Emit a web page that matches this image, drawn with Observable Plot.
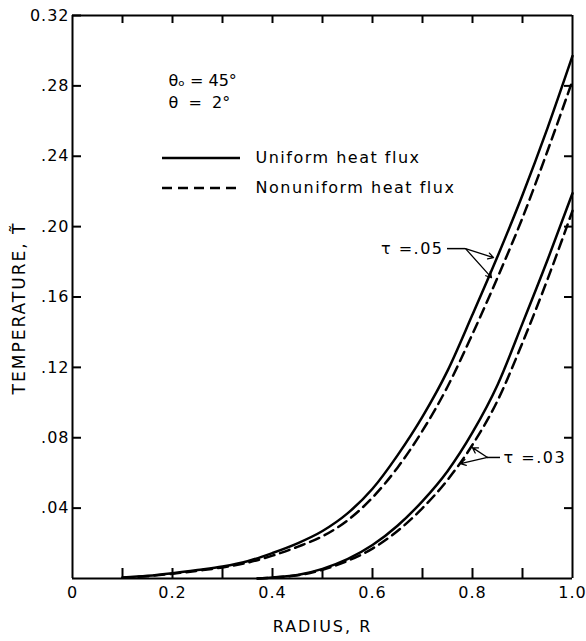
<!DOCTYPE html>
<html>
<head>
<meta charset="utf-8">
<script src="https://cdn.jsdelivr.net/npm/d3@7"></script>
<script src="https://cdn.jsdelivr.net/npm/@observablehq/plot@0.6"></script>
<style>
  html, body { margin: 0; padding: 0; background: white; }
  #chart svg { display: block; }
</style>
</head>
<body>
<div id="chart"></div>
<script>
// ---- data ----
const R05 = [0.10,0.15,0.20,0.25,0.30,0.35,0.40,0.45,0.50,0.55,0.60,0.65,0.70,0.75,0.80,0.85,0.90,0.95,1.00];
const uniform05 = [0.0005,0.0015,0.003,0.0048,0.0068,0.0098,0.0145,0.020,0.027,0.037,0.051,0.070,0.092,0.118,0.150,0.183,0.218,0.256,0.297];
const nonuniform05 = [0.0004,0.0013,0.0027,0.0044,0.0063,0.009,0.013,0.018,0.024,0.033,0.046,0.063,0.084,0.109,0.139,0.171,0.205,0.243,0.283];

const R03 = [0.37,0.40,0.45,0.50,0.55,0.60,0.65,0.70,0.75,0.80,0.85,0.90,0.95,1.00];
const uniform03 = [0,0.0006,0.002,0.0055,0.011,0.019,0.030,0.044,0.061,0.083,0.110,0.145,0.181,0.219];
const nonuniform03 = [0,0.0005,0.0018,0.005,0.010,0.017,0.027,0.040,0.056,0.076,0.101,0.134,0.170,0.209];

const xDomain = [0, 1];
const yDomain = [0, 0.32];
const xLabelTicks = [0, 0.2, 0.4, 0.6, 0.8, 1.0];
const xMinorTicks = [0.1,0.2,0.3,0.4,0.5,0.6,0.7,0.8,0.9];
const yLeftTicks = [0.04,0.08,0.12,0.16,0.20,0.24,0.28,0.32];
const yRightTicks = [0.04,0.08,0.12,0.16,0.20,0.24,0.28];

const xTitle = "RADIUS, R";
const yTitle = "TEMPERATURE, T\u0303";

const legendLabels = ["Uniform heat flux", "Nonuniform heat flux"];
const legendT = [0.239, 0.222];
const legendR = [0.18, 0.336, 0.366]; // line start, line end, text start

const paramLines = ["θ\u2092 = 45°", "θ\u00a0\u00a0=\u00a0\u00a02°"];
const paramT = [0.283, 0.2705];
const paramR = 0.192;

const tauLabels = ["τ =.05", "τ =.03"];
const tauLabelR = [0.742, 0.862];
const tauLabelT = [0.1875, 0.0688];
const leaderStartR = [0.75, 0.856];
const leaderKneeR = [0.786, 0.83];
const arrowTipR = [[0.842, 0.838], [0.80, 0.776]];
const arrowTipT = [[0.1824, 0.171], [0.0744, 0.0653]];

// ---- build tables ----
const curves = [
  ...R05.map((r, i) => ({R: r, T: uniform05[i], s: "u05"})),
  ...R05.map((r, i) => ({R: r, T: nonuniform05[i], s: "n05"})),
  ...R03.map((r, i) => ({R: r, T: uniform03[i], s: "u03"})),
  ...R03.map((r, i) => ({R: r, T: nonuniform03[i], s: "n03"}))
];
const solid = curves.filter(d => d.s[0] === "u");
const dashed = curves.filter(d => d.s[0] === "n");
const leaders = tauLabels.map((t, i) => ({x1: leaderStartR[i], x2: leaderKneeR[i], T: tauLabelT[i]}));
const arrows = tauLabels.flatMap((t, i) => arrowTipR[i].map((r, j) => ({x1: leaderKneeR[i], y1: tauLabelT[i], x2: r, y2: arrowTipT[i][j]})));

const fmtX = d => d === 0 ? "0" : d.toFixed(1);
const fmtY = d => d === 0.32 ? "0.32" : d.toFixed(2).replace(/^0/, "");

const W = 586, H = 641, ML = 72, MR = 14, MT = 15, MB = 63;
const frameW = W - ML - MR, frameH = H - MT - MB;
const yPerPx = (yDomain[1] - yDomain[0]) / frameH;
const xPerPx = (xDomain[1] - xDomain[0]) / frameW;

const chart = Plot.plot({
  width: W, height: H,
  marginLeft: ML, marginRight: MR, marginTop: MT, marginBottom: MB,
  x: {domain: xDomain},
  y: {domain: yDomain},
  style: {fontFamily: "DejaVu Sans", fontSize: "15px", color: "black"},
  marks: [
    Plot.axisX({ticks: xLabelTicks, tickSize: 0, tickPadding: 8, tickFormat: fmtX, label: null, fontSize: 16}),
    Plot.axisY({ticks: yLeftTicks, tickSize: 0, tickPadding: 3, tickFormat: fmtY, label: null, fontSize: 16}),
    // curves
    Plot.line(solid, {x: "R", y: "T", z: "s", stroke: "black", strokeWidth: 2.5, curve: "monotone-x"}),
    Plot.line(dashed, {x: "R", y: "T", z: "s", stroke: "black", strokeWidth: 2.5, strokeDasharray: "10,6", curve: "monotone-x"}),
    // legend
    Plot.ruleY([legendT[0]], {y: d => d, x1: legendR[0], x2: legendR[1], stroke: "black", strokeWidth: 2.5}),
    Plot.ruleY([legendT[1]], {y: d => d, x1: legendR[0], x2: legendR[1], stroke: "black", strokeWidth: 2.5, strokeDasharray: "10,6"}),
    Plot.text(legendLabels, {y: (d, i) => legendT[i], x: legendR[2], text: d => d, textAnchor: "start", fontSize: 16}),
    // parameters
    Plot.text(paramLines, {x: paramR, y: (d, i) => paramT[i], text: d => d, textAnchor: "start", fontSize: 16}),
    // tau annotations
    Plot.text([tauLabels[0]], {x: tauLabelR[0], y: tauLabelT[0], text: d => d, textAnchor: "end", fontSize: 16}),
    Plot.text([tauLabels[1]], {x: tauLabelR[1], y: tauLabelT[1], text: d => d, textAnchor: "start", fontSize: 16}),
    Plot.ruleY(leaders, {y: "T", x1: "x1", x2: "x2", stroke: "black", strokeWidth: 1.5}),
    Plot.arrow(arrows, {x1: "x1", y1: "y1", x2: "x2", y2: "y2", stroke: "black", strokeWidth: 1.3, headLength: 7}),
    // axis titles
    Plot.text([yTitle], {frameAnchor: "left", dx: -53, dy: 11, rotate: -90, textAnchor: "middle", text: d => d, fontSize: 17}),
    Plot.text([xTitle], {frameAnchor: "bottom", dy: 53, textAnchor: "middle", text: d => d, fontSize: 16}),
    // box border (axis lines)
    Plot.ruleX(xDomain, {x: d => d, y1: yDomain[0], y2: yDomain[1], stroke: "black", strokeWidth: 2}),
    Plot.ruleY(yDomain, {y: d => d, x1: xDomain[0], x2: xDomain[1], stroke: "black", strokeWidth: 2}),
    // inward ticks on all four sides
    Plot.ruleX(xMinorTicks, {x: d => d, y1: yDomain[0], y2: yDomain[0] + 10 * yPerPx, stroke: "black", strokeWidth: 2}),
    Plot.ruleX(xMinorTicks, {x: d => d, y1: yDomain[1] - 8 * yPerPx, y2: yDomain[1], stroke: "black", strokeWidth: 2}),
    Plot.ruleY(yLeftTicks, {y: d => d, x1: xDomain[0], x2: xDomain[0] + 9 * xPerPx, stroke: "black", strokeWidth: 2}),
    Plot.ruleY(yRightTicks, {y: d => d, x1: xDomain[1] - 8 * xPerPx, x2: xDomain[1], stroke: "black", strokeWidth: 2})
  ]
});

// letter spacing to approximate the wide hand lettering
const spacing = new Map([
  ...legendLabels.map(t => [t, "1.5px"]),
  ...tauLabels.map(t => [t, "1.5px"]),
  [yTitle, "2px"], [xTitle, "2px"]
]);
chart.querySelectorAll("text").forEach(t => {
  const s = spacing.get(t.textContent);
  if (s) t.style.letterSpacing = s;
});
chart.querySelectorAll('g[aria-label="x-axis tick label"] text, g[aria-label="y-axis tick label"] text')
  .forEach(t => t.style.letterSpacing = "1px");

document.getElementById("chart").appendChild(chart);
</script>
</body>
</html>
